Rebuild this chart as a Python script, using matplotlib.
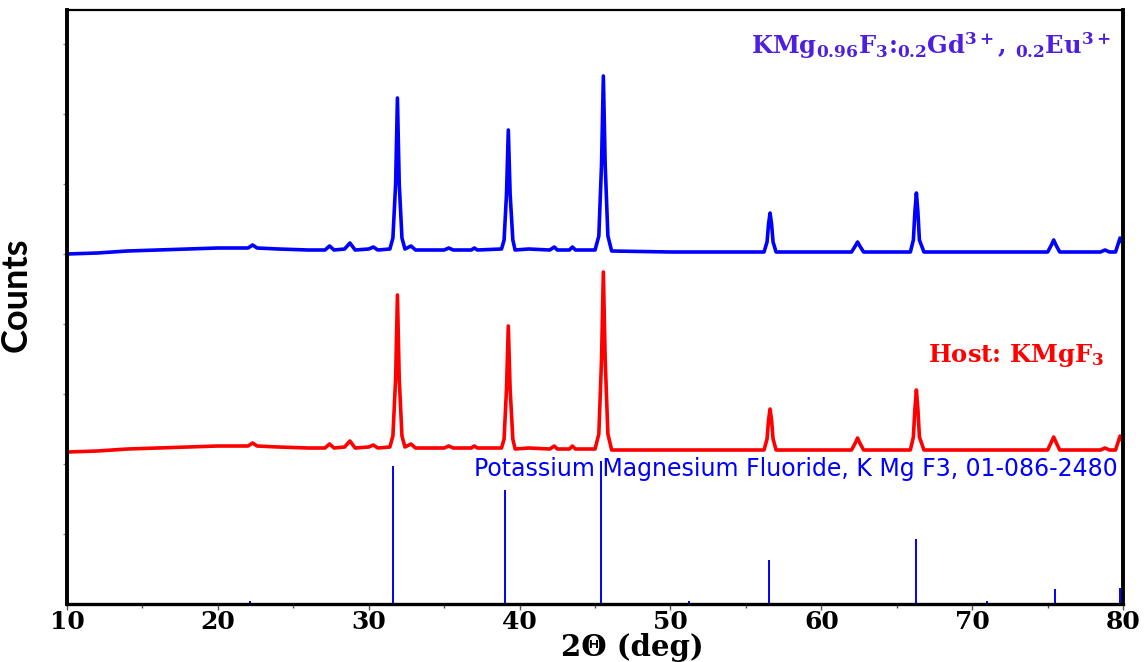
import matplotlib
matplotlib.use("Agg")
import matplotlib.pyplot as plt

# XRD of KMgF3 host and doped sample (arbitrary counts)
two_theta_doped = [10.0, 12.0, 14.0, 16.0, 18.0, 20.0, 22.0, 22.3, 22.6, 24.0, 26.0, 27.1, 27.4, 27.7,
                   28.4, 28.75, 29.1, 30.0, 30.3, 30.6, 31.4, 31.6, 31.78, 31.9, 32.02, 32.2, 32.4,
                   32.8, 33.1, 35.0, 35.3, 35.6, 36.8, 37.0, 37.2, 38.8, 38.97, 39.13, 39.25, 39.37,
                   39.55, 39.7, 40.6, 42.0, 42.3, 42.5, 43.3, 43.5, 43.7, 45.0, 45.25, 45.43, 45.55,
                   45.67, 45.85, 46.1, 50.0, 56.2, 56.4, 56.5, 56.6, 56.7, 56.8, 57.0, 62.0, 62.25,
                   62.4, 62.55, 62.8, 65.9, 66.1, 66.2, 66.3, 66.4, 66.5, 66.8, 75.0, 75.25, 75.4,
                   75.55, 75.8, 78.5, 78.8, 79.1, 79.5, 79.8, 80.0]
counts_doped = [350, 351, 353, 354, 355, 356, 356, 359, 356, 355, 354, 354, 358, 354,
                355, 361, 354, 355, 357, 354, 355, 366, 420, 506, 420, 366, 355,
                358, 354, 354, 356, 354, 354, 356, 354, 355, 364, 410, 474, 410,
                364, 354, 355, 354, 357, 354, 354, 357, 354, 354, 368, 440, 528,
                440, 368, 353, 352, 352, 362, 380, 391, 380, 362, 352, 352, 358,
                362, 358, 352, 352, 364, 392, 411, 392, 364, 352, 352, 359, 364,
                359, 352, 352, 354, 352, 352, 366, 360]

two_theta_host = two_theta_doped
counts_host = [152, 153, 155, 156, 157, 158, 158, 161, 158, 157, 156, 156, 160, 156,
               157, 163, 156, 157, 159, 156, 157, 168, 225, 309, 225, 168, 157,
               160, 156, 156, 158, 156, 156, 158, 156, 156, 165, 215, 278, 215,
               165, 155, 156, 155, 158, 155, 155, 158, 155, 155, 170, 245, 332,
               245, 170, 154, 154, 154, 165, 184, 195, 184, 165, 154, 154, 161,
               166, 161, 154, 154, 167, 195, 214, 195, 167, 154, 154, 162, 167,
               162, 154, 154, 156, 154, 154, 168, 162]

# reference card 01-086-2480
ref_pos = [22.1, 31.6, 39.0, 45.4, 51.2, 56.5, 66.3, 71.0, 75.5, 79.8]
ref_int = [3, 138, 114, 143, 3, 44, 65, 3, 15, 16]

plt.rcParams["mathtext.fontset"] = "dejavuserif"
plt.rcParams["mathtext.default"] = "bf"

fig = plt.figure(figsize=(11.46, 6.62), dpi=100)
ax = fig.add_axes([0.0585, 0.0876, 0.9215, 0.8973])

ax.plot(two_theta_doped, counts_doped, color="#0000ff", lw=2.6, solid_joinstyle="round")
ax.plot(two_theta_host, counts_host, color="#ff0000", lw=2.6, solid_joinstyle="round")
ax.vlines(ref_pos, 0, ref_int, color="#0000ff", lw=1.4)

ax.set_xlim(10, 80)
ax.set_ylim(0, 594)

ax.text(0.995, 0.2265, "Potassium Magnesium Fluoride, K Mg F3, 01-086-2480",
        transform=ax.transAxes, ha="right", va="center", color="#0000ff",
        fontsize=17, family="DejaVu Sans")
ax.text(0.988, 0.94, "KMg$_{0.96}$F$_3$:$_{0.2}$Gd$^{3+}$, $_{0.2}$Eu$^{3+}$",
        transform=ax.transAxes, ha="right", va="center", color="#4d1fe0",
        fontsize=17.5, fontweight="bold", family="DejaVu Serif")
ax.text(0.982, 0.418, "Host: KMgF$_3$",
        transform=ax.transAxes, ha="right", va="center", color="#ff0000",
        fontsize=17.5, fontweight="bold", family="DejaVu Serif")

ax.set_xticks([10, 20, 30, 40, 50, 60, 70, 80])
ax.set_xticks([15, 25, 35, 45, 55, 65, 75], minor=True)
ax.set_xticklabels(["10", "20", "30", "40", "50", "60", "70", "80"],
                   fontsize=18, fontweight="bold", family="DejaVu Serif")
ax.tick_params(axis="x", which="major", length=4, width=1, pad=0, color="#555555")
ax.tick_params(axis="x", which="minor", length=3, width=1, color="#555555")
ax.set_yticks([70, 140, 210, 280, 350, 420, 490, 560])
ax.set_yticklabels([])
ax.tick_params(axis="y", length=3, width=1, color="#888888")

ax.set_xlabel("2Θ (deg)", fontsize=21, fontweight="bold", family="DejaVu Serif")
ax.xaxis.set_label_coords(0.535, -0.048)
ax.set_ylabel("Counts", fontsize=26, fontweight="bold",
              family=["Lato", "DejaVu Sans"])
ax.yaxis.set_label_coords(-0.033, 0.52)

for side, w in [("left", 2.8), ("right", 2.8), ("bottom", 2.4), ("top", 1.6)]:
    ax.spines[side].set_linewidth(w)
    ax.spines[side].set_color("black")

fig.savefig("out.png", dpi=100)
